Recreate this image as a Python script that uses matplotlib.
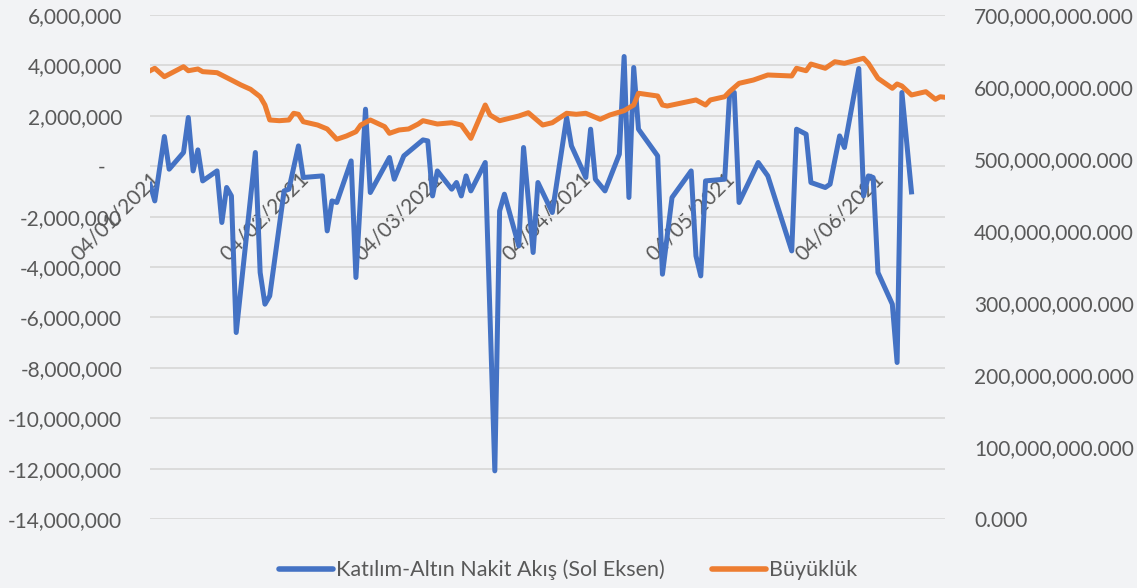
import matplotlib
matplotlib.use("Agg")
import matplotlib.pyplot as plt
import matplotlib.dates as mdates
from matplotlib.ticker import FuncFormatter, MultipleLocator
import pandas as pd

# ---------------- data ----------------
flow_dates = [
    "2021-01-04", "2021-01-05", "2021-01-07", "2021-01-08", "2021-01-11", "2021-01-12", "2021-01-13", "2021-01-14", "2021-01-15", "2021-01-18",
    "2021-01-19", "2021-01-20", "2021-01-21", "2021-01-22", "2021-01-26", "2021-01-27", "2021-01-28", "2021-01-29", "2021-02-01", "2021-02-02",
    "2021-02-04", "2021-02-05", "2021-02-09", "2021-02-10", "2021-02-11", "2021-02-12", "2021-02-15", "2021-02-16", "2021-02-18", "2021-02-19",
    "2021-02-23", "2021-02-24", "2021-02-26", "2021-03-02", "2021-03-03", "2021-03-04", "2021-03-05", "2021-03-08", "2021-03-09", "2021-03-10",
    "2021-03-11", "2021-03-12", "2021-03-15", "2021-03-17", "2021-03-18", "2021-03-19", "2021-03-22", "2021-03-23", "2021-03-25", "2021-03-26",
    "2021-03-29", "2021-04-01", "2021-04-02", "2021-04-05", "2021-04-06", "2021-04-07", "2021-04-09", "2021-04-12", "2021-04-13", "2021-04-14",
    "2021-04-15", "2021-04-16", "2021-04-20", "2021-04-21", "2021-04-23", "2021-04-27", "2021-04-28", "2021-04-29", "2021-04-30", "2021-05-04",
    "2021-05-05", "2021-05-06", "2021-05-07", "2021-05-11", "2021-05-13", "2021-05-18", "2021-05-19", "2021-05-21", "2021-05-22", "2021-05-25",
    "2021-05-26", "2021-05-28", "2021-05-29", "2021-06-01", "2021-06-02", "2021-06-03", "2021-06-04", "2021-06-05", "2021-06-08", "2021-06-09",
    "2021-06-10", "2021-06-12",
]
flow_values = [
    -714000, -1377000, 1178000, -119000, 544000, 1933000, -187000, 647000, -583000, -187000,
    -2234000, -845000, -1179000, -6600000, 544000, -4218000, -5476000, -5147000, -980000, -913000,
    806000, -448000, -385000, -2567000, -1377000, -1440000, 210000, -4417000, 2262000, -1044000,
    345000, -516000, 409000, 1044000, 1004000, -1179000, -187000, -913000, -647000, -1179000,
    -385000, -980000, 147000, -12090000, -1774000, -1111000, -3163000, 742000, -3425000, -647000,
    -1837000, 1933000, 806000, -448000, 1468000, -516000, -980000, 476000, 4353000, -1242000,
    3917000, 1468000, 409000, -4286000, -1242000, -187000, -3560000, -4353000, -583000, -516000,
    2790000, 2925000, -1440000, 147000, -385000, -3361000, 1468000, 1270000, -647000, -845000,
    -714000, 1202000, 742000, 3877000, -1179000, -385000, -448000, -4218000, -5476000, -7790000,
    2925000, -1020000,
]

size_dates = [
    "2021-01-04", "2021-01-05", "2021-01-07", "2021-01-11", "2021-01-12", "2021-01-14", "2021-01-15", "2021-01-18", "2021-01-21", "2021-01-23",
    "2021-01-25", "2021-01-27", "2021-01-28", "2021-01-29", "2021-01-31", "2021-02-02", "2021-02-03", "2021-02-04", "2021-02-05", "2021-02-08",
    "2021-02-10", "2021-02-12", "2021-02-14", "2021-02-16", "2021-02-17", "2021-02-19", "2021-02-22", "2021-02-23", "2021-02-25", "2021-02-27",
    "2021-03-01", "2021-03-02", "2021-03-05", "2021-03-08", "2021-03-10", "2021-03-12", "2021-03-15", "2021-03-16", "2021-03-18", "2021-03-22",
    "2021-03-24", "2021-03-27", "2021-03-29", "2021-04-01", "2021-04-03", "2021-04-05", "2021-04-08", "2021-04-10", "2021-04-13", "2021-04-15",
    "2021-04-16", "2021-04-20", "2021-04-21", "2021-04-22", "2021-04-28", "2021-04-30", "2021-05-01", "2021-05-04", "2021-05-05", "2021-05-07",
    "2021-05-10", "2021-05-13", "2021-05-18", "2021-05-19", "2021-05-21", "2021-05-22", "2021-05-25", "2021-05-27", "2021-05-29", "2021-06-02",
    "2021-06-03", "2021-06-05", "2021-06-08", "2021-06-09", "2021-06-10", "2021-06-12", "2021-06-15", "2021-06-17", "2021-06-18", "2021-06-19",
]
# fund size in millions (right axis)
size_values_mn = [
    622.6, 626.0, 614.3, 628.2, 622.6, 625.0, 621.3, 619.9, 609.7, 602.8,
    596.8, 586.5, 575.0, 554.2, 553.2, 554.2, 563.5, 562.1, 551.8, 547.2,
    541.7, 527.4, 531.9, 537.9, 547.2, 554.2, 544.9, 535.7, 540.3, 541.7,
    548.6, 553.2, 548.6, 550.4, 547.2, 528.7, 575.0, 561.1, 553.2, 559.7,
    564.3, 547.2, 550.4, 563.5, 562.1, 563.5, 555.1, 561.1, 567.1, 575.0,
    591.3, 587.5, 575.0, 573.6, 582.0, 575.0, 582.0, 586.5, 593.5, 605.1,
    609.7, 616.7, 615.3, 626.0, 622.6, 631.9, 626.0, 635.1, 632.9, 639.9,
    632.9, 612.1, 598.2, 604.2, 601.4, 588.9, 593.5, 582.9, 586.5, 585.7,
]

series_labels = ["Katılım-Altın Nakit Akış (Sol Eksen)", "Büyüklük"]
x_start, x_end = "2021-01-04", "2021-06-19"
x_ticks = ["2021-01-04", "2021-02-04", "2021-03-04", "2021-04-04", "2021-05-04", "2021-06-04"]

# ---------------- style ----------------
BLUE = "#4472C4"
ORANGE = "#ED7D31"
TEXT = "#595959"
GRID = "#D9D9D9"
BG = "#F2F3F5"
FONT = ["Lato", "DejaVu Sans"]
FS = 15

plt.rcParams["font.family"] = FONT
plt.rcParams["font.size"] = FS

fig = plt.figure(figsize=(11.37, 5.88), dpi=100, facecolor=BG)
ax = fig.add_axes([150 / 1137, 1 - 519 / 588, 795 / 1137, 504 / 588])
ax.set_facecolor("none")
ax2 = ax.twinx()
ax2.set_facecolor("none")

fd = pd.to_datetime(flow_dates)
sd = pd.to_datetime(size_dates)

l1, = ax.plot(fd, flow_values, color=BLUE, lw=3.6, zorder=3)
l2, = ax2.plot(sd, [v * 1e6 for v in size_values_mn], color=ORANGE, lw=3.6, zorder=3)

ax.set_ylim(-14_000_000, 6_000_000)
ax.yaxis.set_major_locator(MultipleLocator(2_000_000))
ax.yaxis.set_major_formatter(FuncFormatter(lambda v, p: "-   " if abs(v) < 1 else f"{v:,.0f}"))
ax2.set_ylim(0, 700e6)
ax2.yaxis.set_major_locator(MultipleLocator(100e6))
ax2.yaxis.set_major_formatter(FuncFormatter(lambda v, p: f"{v:,.3f}"))

ax.set_xlim(pd.Timestamp(x_start), pd.Timestamp(x_end))
ax.set_xticks(pd.to_datetime(x_ticks))
ax.xaxis.set_major_formatter(mdates.DateFormatter("%d/%m/%Y"))

ax.grid(axis="y", color=GRID, lw=1.3, zorder=0)
ax.set_axisbelow(True)

for a in (ax, ax2):
    for s in a.spines.values():
        s.set_visible(False)
ax.spines["bottom"].set_position(("data", 0))

# pads are in points (px * 0.72 at 100 dpi)
ax.tick_params(axis="y", length=0, pad=20, colors=TEXT, labelsize=FS)
ax2.tick_params(axis="y", length=0, pad=21, colors=TEXT, labelsize=FS)
ax.tick_params(axis="x", length=0, pad=2, colors=TEXT, labelsize=FS)
for lab in ax.get_xticklabels():
    lab.set_rotation(45)
    lab.set_ha("right")
    lab.set_va("top")
    lab.set_rotation_mode("anchor")

leg = fig.legend([l1, l2], series_labels, loc="lower center", bbox_to_anchor=(0.5, -0.02),
                 ncol=2, frameon=False, fontsize=15.5, handlelength=2.5, handletextpad=0.15,
                 columnspacing=2.2, labelcolor=TEXT)
for h in leg.legend_handles:
    h.set_linewidth(4)
    h.set_solid_capstyle("round")

fig.savefig("out.png", dpi=100, facecolor=BG)
